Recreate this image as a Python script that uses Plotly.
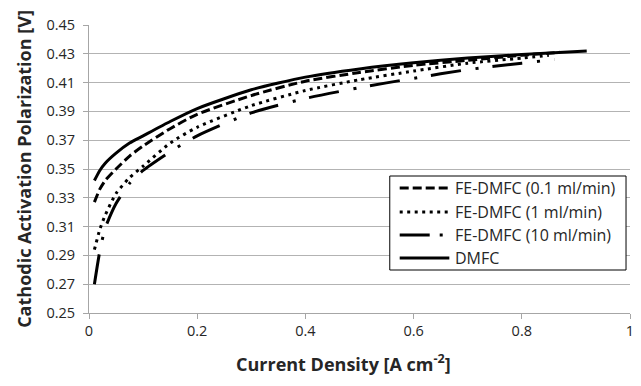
import plotly.graph_objects as go

# Current density [A cm^-2] and cathodic activation polarization [V] per cell type
x_dmfc = [0.01, 0.02, 0.03, 0.05, 0.075, 0.1, 0.15, 0.2, 0.3, 0.4, 0.5, 0.6, 0.7, 0.8, 0.92]
y_dmfc = [0.342, 0.349, 0.354, 0.361, 0.368, 0.373, 0.383, 0.392, 0.405, 0.4138, 0.4195, 0.4238, 0.427, 0.4295, 0.432]

x_fe01 = [0.01, 0.02, 0.03, 0.05, 0.075, 0.1, 0.15, 0.2, 0.3, 0.4, 0.5, 0.6, 0.7, 0.8, 0.87]
y_fe01 = [0.327, 0.336, 0.342, 0.350, 0.359, 0.366, 0.378, 0.388, 0.401, 0.411, 0.417, 0.422, 0.4255, 0.429, 0.431]

x_fe1 = [0.01, 0.02, 0.03, 0.05, 0.075, 0.1, 0.15, 0.2, 0.3, 0.4, 0.5, 0.6, 0.7, 0.8, 0.85]
y_fe1 = [0.294, 0.308, 0.318, 0.333, 0.344, 0.352, 0.368, 0.379, 0.394, 0.4045, 0.412, 0.418, 0.4235, 0.427, 0.429]

x_fe10 = [0.01, 0.02, 0.03, 0.05, 0.075, 0.1, 0.15, 0.2, 0.3, 0.4, 0.5, 0.6, 0.7, 0.8, 0.86]
y_fe10 = [0.270, 0.293, 0.309, 0.326, 0.340, 0.349, 0.362, 0.373, 0.389, 0.399, 0.4065, 0.413, 0.419, 0.4235, 0.426]

series_names = ["FE-DMFC (0.1 ml/min)", "FE-DMFC (1 ml/min)", "FE-DMFC (10 ml/min)", "DMFC"]

x_ticks = [0, 0.2, 0.4, 0.6, 0.8, 1]
x_tick_text = ["0", "0.2", "0.4", "0.6", "0.8", "1"]
y_ticks = [0.25, 0.27, 0.29, 0.31, 0.33, 0.35, 0.37, 0.39, 0.41, 0.43, 0.45]

FONT = "Open Sans"
TEXT = "#262626"
AXIS = "#a6a6a6"

# plot-area geometry in pixels
W, H = 641, 386
ML, MR, MT, MB = 89, 7, 25, 73
PW, PH = W - ML - MR, H - MT - MB


def px_x(p):
    return (p - ML) / PW


def px_y(p):
    return (H - MB - p) / PH


curve_dash = ["9px,4px", "3px,4.5px", "30px,15px,3px,14px", "solid"]
legend_dash = ["9px,4px", "3px,4.5px", "30px,10px,3px,10px", "solid"]
series_x = [x_fe01, x_fe1, x_fe10, x_dmfc]
series_y = [y_fe01, y_fe1, y_fe10, y_dmfc]

fig = go.Figure()
for name, xs, ys, dash in zip(series_names, series_x, series_y, curve_dash):
    fig.add_trace(go.Scatter(
        x=xs, y=ys, name=name, mode="lines", showlegend=False,
        line=dict(color="black", width=3, dash=dash, shape="spline", smoothing=0.6),
    ))

# boxed legend in the lower right of the plot area
shapes = [dict(
    type="rect", xref="paper", yref="paper",
    x0=px_x(392), x1=px_x(630), y0=px_y(270), y1=px_y(176),
    line=dict(color="black", width=1), fillcolor="white", layer="above",
)]
annotations = []
row_y = [188, 212, 235, 258]
for name, dash, ry in zip(series_names, legend_dash, row_y):
    shapes.append(dict(
        type="line", xref="paper", yref="paper",
        x0=px_x(402), x1=px_x(452), y0=px_y(ry), y1=px_y(ry),
        line=dict(color="black", width=3, dash=dash), layer="above",
    ))
    annotations.append(dict(
        text=name, xref="paper", yref="paper", x=px_x(456), y=px_y(ry),
        xanchor="left", yanchor="middle", showarrow=False,
        font=dict(family=FONT, size=16, color=TEXT),
    ))

# x-axis title, centred a little left of the plot-area centre
annotations.append(dict(
    text="<b>Current Density [A cm<sup>-2</sup>]</b>", xref="paper", yref="paper",
    x=px_x(345), y=px_y(363), xanchor="center", yanchor="middle", showarrow=False,
    font=dict(family=FONT, size=18, color=TEXT),
))

fig.update_layout(
    width=W, height=H,
    margin=dict(l=ML, r=MR, t=MT, b=MB),
    paper_bgcolor="white", plot_bgcolor="white",
    font=dict(family=FONT, size=14, color=TEXT),
    showlegend=False,
    shapes=shapes,
    annotations=annotations,
)

fig.update_xaxes(
    range=[0, 1], tickvals=x_ticks, ticktext=x_tick_text,
    showgrid=False, zeroline=False,
    showline=True, linecolor=AXIS, linewidth=1,
    ticks="outside", ticklen=5, tickcolor=AXIS,
    tickfont=dict(family=FONT, size=14.5, color=TEXT),
)
fig.update_yaxes(
    range=[0.25, 0.45], tickvals=y_ticks, tickformat=".2f",
    showgrid=True, gridcolor="#b3b3b3", gridwidth=1, zeroline=False,
    showline=True, linecolor=AXIS, linewidth=1,
    ticks="outside", ticklen=5, tickcolor=AXIS, ticklabelstandoff=5,
    tickfont=dict(family=FONT, size=14.5, color=TEXT),
    title=dict(text="<b>Cathodic Activation Polarization [V]</b>",
               font=dict(family=FONT, size=18, color=TEXT), standoff=10),
)

fig.write_html("out.html")
